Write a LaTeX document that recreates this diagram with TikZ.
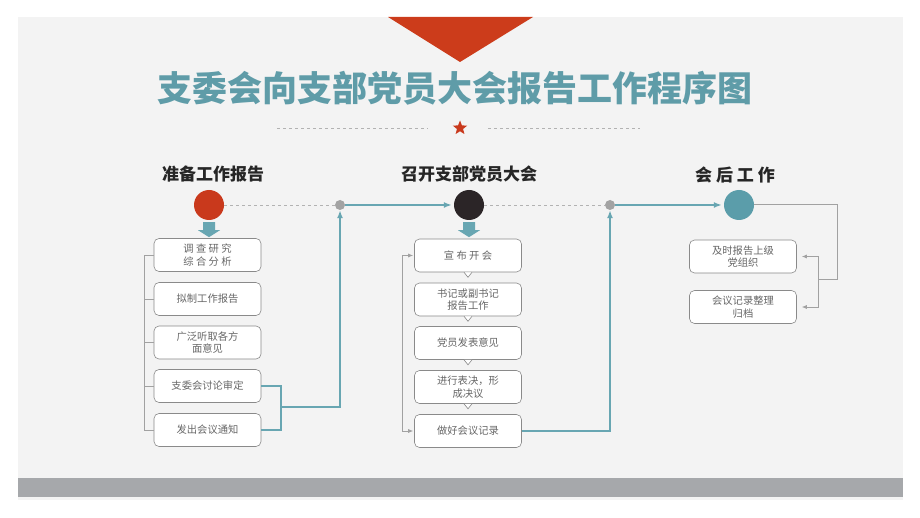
\documentclass[tikz,border=0pt]{standalone}
\usepackage{fontspec}
\setmainfont{Noto Sans CJK SC}
\usetikzlibrary{arrows.meta,positioning,shapes.geometric}

\definecolor{redc}{HTML}{C9391C}
\definecolor{darkc}{HTML}{2B2527}
\definecolor{tealc}{HTML}{5B9DAA}
\definecolor{flowc}{HTML}{68A6B2}
\definecolor{titlec}{HTML}{5F9CA8}
\definecolor{boxgray}{HTML}{8A8A8A}
\definecolor{textgray}{HTML}{666666}
\definecolor{panelc}{HTML}{F3F3F3}
\definecolor{barc}{HTML}{A6A8AB}
\definecolor{jointc}{HTML}{A3A3A3}

\tikzset{
  stepbox/.style={draw=boxgray, fill=white, rounded corners=5pt, line width=.6pt,
    minimum width=107pt, minimum height=33pt, inner sep=1pt, align=center,
    text=textgray, font=\fontsize{10.3}{12.5}\selectfont},
  phase/.style={circle, fill=#1, minimum size=30pt, inner sep=0pt},
  joint/.style={circle, fill=jointc, minimum size=10pt, inner sep=0pt},
  head/.style={font=\fontsize{17}{20}\selectfont\bfseries, text=black!85},
  flow/.style={draw=flowc, line width=1.6pt},
  graybr/.style={draw=boxgray!80, line width=.7pt},
  dashline/.style={draw=black!30, dashed, line width=.5pt},
  tip/.style={-{Latex[length=8pt,width=6pt]}},
  smalltip/.style={{Latex[length=5pt,width=4pt]}-{Latex[length=5pt,width=4pt]}}
}

\begin{document}
\begin{tikzpicture}[x=1pt,y=-1pt]
  \useasboundingbox (0,0) rectangle (920,518);
  % background
  \fill[panelc] (18,17) rectangle (903,500);
  \fill[barc] (18,478) rectangle (903,497);
  \fill[redc!95!orange] (388,17) -- (533,17) -- (460,62) -- cycle;

  \node[font=\fontsize{35}{40}\selectfont\bfseries, text=titlec] (title) at (455,88)
    {支委会向支部党员大会报告工作程序图};
  \node[star, star points=5, star point ratio=2.3, fill=redc, minimum size=15pt,
    inner sep=0pt] (star) at (460,128) {};
  \coordinate (dl) at (277,128);
  \coordinate (dr) at (640,128);
  \draw[dashline] (dl) -- ([xshift=-32pt]star.center);
  \draw[dashline] ([xshift=28pt]star.center) -- (dr);

  % headings and stage circles
  \node[head] (h1) at (213,174) {准备工作报告};
  \node[head] (h2) at (469,174) {召开支部党员大会};
  \node[head] (h3) at (735,175) {会 后 工 作};

  \node[phase=redc] (prep) at (209,205) {};
  \node[phase=darkc] (meet) at (469,205) {};
  \node[phase=tealc] (after) at (739,205) {};
  \node[joint] (j1) at (340,205) {};
  \node[joint] (j2) at (610,205) {};

  \foreach \c in {prep,meet} {
    \fill[flowc] (\c.south) ++(-6,2) -- ++(12,0) -- ++(0,8) -- ++(5,0)
      -- ++(-11,7) -- ++(-11,-7) -- ++(5,0) -- cycle;
  }

  % first column
  \node[stepbox] (a1) at (207.5,255) {调 查 研 究\\综 合 分 析};
  \node[stepbox] (a2) at (207.5,299) {拟制工作报告};
  \node[stepbox] (a3) at (207.5,342.5) {广泛听取各方\\面意见};
  \node[stepbox] (a4) at (207.5,386) {支委会讨论审定};
  \node[stepbox] (a5) at (207.5,430) {发出会议通知};

  % second column
  \node[stepbox] (b1) at (468,255.5) {宣 布 开 会};
  \node[stepbox] (b2) at (468,299.5) {书记或副书记\\报告工作};
  \node[stepbox] (b3) at (468,343) {党员发表意见};
  \node[stepbox] (b4) at (468,387) {进行表决，形\\成决议};
  \node[stepbox] (b5) at (468,431) {做好会议记录};
  \foreach \b in {b1,b2,b3,b4} {
    \filldraw[fill=white, draw=boxgray, line width=.6pt]
      ([xshift=-4pt]\b.south) -- ++(4,5) -- ++(4,-5);
  }

  % third column
  \node[stepbox] (c1) at (743,256.5) {及时报告上级\\党组织};
  \node[stepbox] (c2) at (743,307) {会议记录整理\\归档};

  % brackets
  \coordinate (lb) at (144,0);
  \draw[graybr] (a1.west) -- (a1.west -| lb) -- (a5.west -| lb) -- (a5.west);
  \foreach \a in {a2,a3,a4}
    \draw[graybr] (\a.west) -- (\a.west -| lb);

  \coordinate (mb) at (402,0);
  \draw[graybr, smalltip, shorten <=1pt, shorten >=1pt]
    (b1.west) -- (b1.west -| mb) -- (b5.west -| mb) -- (b5.west);

  \coordinate (rc) at (837,280);
  \coordinate (rk) at (818,280);
  \draw[graybr, line width=1pt] (after.east) -| (rc) -- (rk);
  \draw[graybr, smalltip, shorten <=5pt, shorten >=5pt]
    (c1.east) -- (c1.east -| rk) -- (c2.east -| rk) -- (c2.east);

  % main flow
  \coordinate (m1) at (281,407);
  \draw[flow] (a4.east) -- (a4.east -| m1) -- (a5.east -| m1) -- (a5.east);
  \draw[flow, tip] (m1) -| (j1.south);
  \draw[dashline] (prep.east) -- (j1.west);
  \draw[flow, tip, shorten >=2pt] (j1.east) -- (meet.west);

  \draw[flow, tip] (b5.east) -| (j2.south);
  \draw[dashline] (meet.east) -- (j2.west);
  \draw[flow, tip, shorten >=2pt] (j2.east) -- (after.west);
\end{tikzpicture}
\end{document}
